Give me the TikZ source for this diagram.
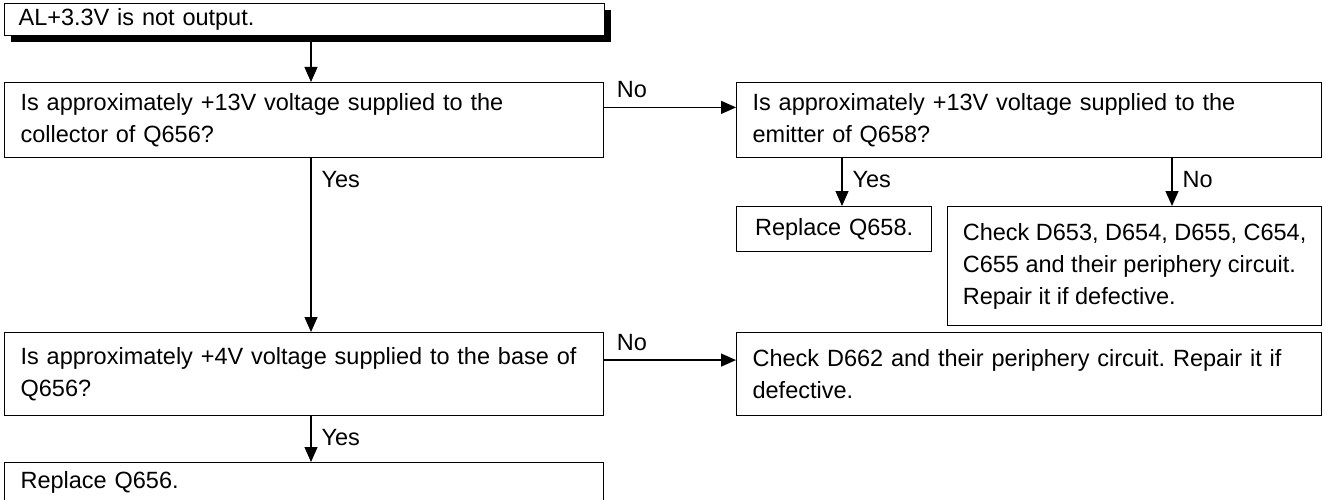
\documentclass[tikz,border=0pt]{standalone}
\usepackage{fontspec}
\setmainfont{Liberation Sans}
\usetikzlibrary{arrows.meta,calc,shadows}

\begin{document}
\frenchspacing
\begin{tikzpicture}[x=1pt, y=-1pt,
    box/.style={draw, line width=1.2pt, rectangle, anchor=north west, inner xsep=16pt, inner ysep=0pt, align=left, font=\fontsize{23.5}{32}\selectfont},
    lbl/.style={inner sep=0pt, font=\fontsize{23.5}{32}\selectfont},
    downlbl/.style={lbl, pos=0, anchor=west, xshift=10pt, yshift=-21pt},
    sidelbl/.style={lbl, pos=0, anchor=south west, xshift=12pt, yshift=9pt},
    arr/.style={line width=1.2pt, -{Triangle[length=15pt, width=13pt]}}]
    \useasboundingbox (0,0) rectangle (1324,500);
    \coordinate (spine) at (311,0);
    \coordinate (spine2) at (842,0);
    \coordinate (spine3) at (1172,0);
    \node[box, minimum width=600pt, minimum height=32pt, text width=572pt, inner xsep=14pt, fill=white,
        drop shadow={shadow xshift=6pt, shadow yshift=-6pt, fill=black, opacity=1}] (start) at (4,3) {AL+3.3V is not output.};
    \node[box, minimum width=599pt, minimum height=75pt, text width=567pt] (q1) at (4,82) {Is approximately +13V voltage supplied to the\\collector of Q656?};
    \node[box, minimum width=585pt, minimum height=75pt, text width=553pt] (q2) at (736,82) {Is approximately +13V voltage supplied to the\\emitter of Q658?};
    \node[box, minimum width=195pt, minimum height=45pt, text width=163pt, align=center] (rep58) at (736,206) {Replace Q658.};
    \node[box, minimum width=374pt, minimum height=119pt, inner xsep=14pt] (chk) at (947,206) {Check D653, D654, D655, C654,\\C655 and their periphery circuit.\\Repair it if defective.};
    \node[box, minimum width=599pt, minimum height=83pt, text width=567pt] (q3) at (4,332) {Is approximately +4V voltage supplied to the base of\\Q656?};
    \node[box, minimum width=585pt, minimum height=83pt, text width=553pt] (d662) at (736,332) {Check D662 and their periphery circuit. Repair it if\\defective.};
    \node[box, minimum width=599pt, minimum height=40pt, text width=567pt] (rep56) at (4,462) {Replace Q656.};
    \coordinate (no1) at ($(q1.north east)!1/3!(q1.south east)$);
    \coordinate (no2) at ($(q3.north east)!1/3!(q3.south east)$);
    \draw[arr] (start.south -| spine) -- (q1.north -| spine);
    \draw[arr] (q1.south -| spine) -- node[downlbl] {Yes} (q3.north -| spine);
    \draw[arr] (q3.south -| spine) -- node[downlbl] {Yes} (rep56.north -| spine);
    \draw[arr] (no1) -- node[sidelbl] {No} (no1 -| q2.west);
    \draw[arr] (no2) -- node[sidelbl] {No} (no2 -| d662.west);
    \draw[arr] (q2.south -| spine2) -- node[downlbl] {Yes} (rep58.north -| spine2);
    \draw[arr] (q2.south -| spine3) -- node[downlbl] {No} (chk.north -| spine3);
\end{tikzpicture}
\end{document}
